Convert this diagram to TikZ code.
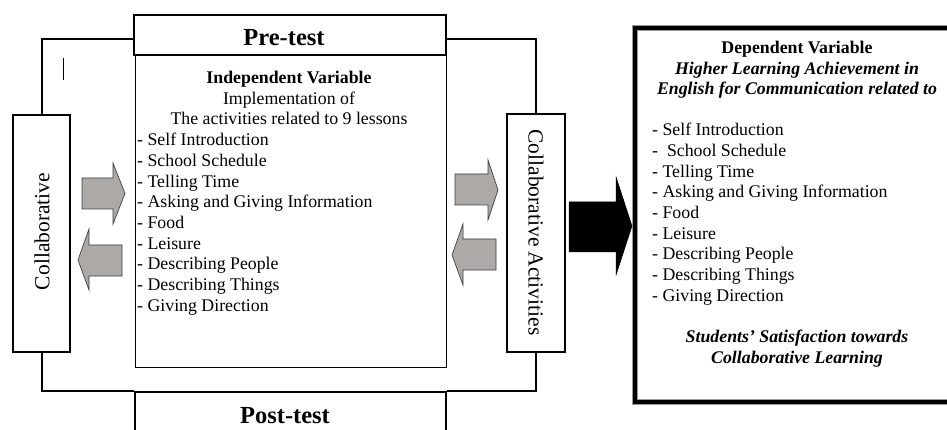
\documentclass[tikz,border=0pt]{standalone}
\usepackage{fontspec}
\setmainfont{Liberation Serif}
\begin{document}
\begin{tikzpicture}[x=1pt,y=-1pt,
  thickbox/.style={draw, line width=2.5pt, fill=white, inner sep=0pt},
  thinbox/.style={draw, line width=1pt, inner sep=0pt},
  depbox/.style={draw=black!40, double=black, double distance=3.5pt, line width=1pt, inner sep=0pt},
  link/.style={line width=2pt},
  body/.style={font=\fontsize{17.8}{20.7}\selectfont, inner sep=0pt},
  big/.style={font=\fontsize{24.5}{28}\selectfont\bfseries, inner sep=0pt},
  side/.style={font=\fontsize{21.5}{24}\selectfont, inner sep=0pt},
  grayarrow/.style={draw=black!75, line width=0.7pt, fill={rgb,255:red,172;green,169;blue,167}},
  blackarrow/.style={fill=black, draw=black, line width=0.5pt}
]
\useasboundingbox (0,0) rectangle (947,430);

% boxes
\node[thinbox, minimum width=311, minimum height=311] (ind) at (290.5,211.5) {};
\node[thickbox, minimum width=312, minimum height=40] (pre) at (290,35) {};
\node[thickbox, minimum width=311, minimum height=50] (post) at (290.5,417) {};
\node[thickbox, minimum width=57, minimum height=237] (lc) at (41.5,233.5) {};
\node[thickbox, minimum width=58, minimum height=238] (rc) at (536,233) {};
\node[depbox, minimum width=360, minimum height=374] (dep) at (815,215) {};

% connectors
\draw[link] ([yshift=-4pt]pre.west) -| (lc.north);
\draw[link] (lc.south) |- (post.north west);
\draw[link] ([yshift=-4pt]pre.east) -| (rc.north);
\draw[link] (rc.south) |- (post.north east);

% stray mark
\draw[line width=1pt] (63,58) -- (63,80);

% texts
\node[big, anchor=base] (pretxt) at (284,46) {Pre-test};
\node[big, anchor=base] (posttxt) at (285,423) {Post-test};
\node[side, rotate=90] (lctxt) at (42,231.5) {Collaborative};
\node[side, rotate=-90] (rctxt) at (536,232.5) {Collaborative Activities};

\node[body, anchor=north, align=center] (indhead) at (289,71)
  {\textbf{Independent Variable}\\Implementation of\\The activities related to 9 lessons};
\node[body, anchor=north west, align=left] (indlist) at (137,133)
  {- Self Introduction\\- School Schedule\\- Telling Time\\- Asking and Giving Information\\- Food\\- Leisure\\- Describing People\\- Describing Things\\- Giving Direction};

\node[body, anchor=north, align=center] (dephead) at (797,41)
  {\textbf{Dependent Variable}\\\textbf{\textit{Higher Learning Achievement in}}\\\textbf{\textit{English for Communication related to}}};
\node[body, anchor=north west, align=left] (deplist) at (652,123)
  {- Self Introduction\\-~ School Schedule\\- Telling Time\\- Asking and Giving Information\\- Food\\- Leisure\\- Describing People\\- Describing Things\\- Giving Direction};
\node[body, anchor=north, align=center] (depfoot) at (797,330)
  {\textbf{\textit{Students’ Satisfaction towards}}\\\textbf{\textit{Collaborative Learning}}};

% gray arrows
\draw[grayarrow] (82,178) -- (113,178) -- (113,163) -- (125,193.5) -- (113,224) -- (113,209) -- (82,209) -- cycle;
\draw[grayarrow] (122,245) -- (89,245) -- (89,229) -- (78,260) -- (89,290) -- (89,276) -- (122,276) -- cycle;
\draw[grayarrow] (455,174) -- (488,174) -- (488,160) -- (498,190) -- (488,220) -- (488,205) -- (455,205) -- cycle;
\draw[grayarrow] (496,239) -- (463,239) -- (463,224) -- (452,255) -- (463,285) -- (463,270) -- (496,270) -- cycle;
% black arrow
\draw[blackarrow] (569,202) -- (616,202) -- (616,177) -- (632,226) -- (616,275) -- (616,252) -- (569,252) -- cycle;
\end{tikzpicture}
\end{document}
